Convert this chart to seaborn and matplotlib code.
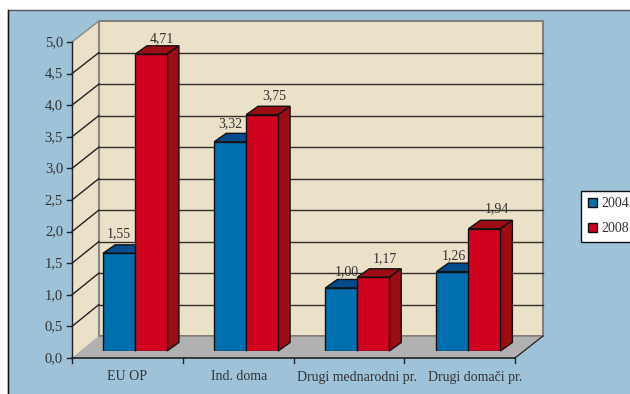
import matplotlib
matplotlib.use("Agg")
import matplotlib.pyplot as plt
from matplotlib.patches import Polygon, Rectangle, Patch
from matplotlib.transforms import Affine2D, IdentityTransform
import pandas as pd
import seaborn as sns

categories = ["EU OP", "Ind. doma", "Drugi mednarodni pr.", "Drugi domači pr."]
years = ["2004", "2008"]
values_2004 = [1.55, 3.32, 1.00, 1.26]
values_2008 = [4.71, 3.75, 1.17, 1.94]
y_ticks = [0.0, 0.5, 1.0, 1.5, 2.0, 2.5, 3.0, 3.5, 4.0, 4.5, 5.0]

PANEL = "#9EC2D8"
WALL = "#EBE0C8"
FLOOR = "#B1B1B1"
BLUE, BLUE_DARK = "#006FAE", "#004C8C"
RED, RED_DARK = "#D0021E", "#9C0C14"
INK = "#333333"
SERIF = "Liberation Serif"

W, H = 630, 394
fig = plt.figure(figsize=(W / 100, H / 100), dpi=100, facecolor="white")

# Backdrop axes in pixel units: panel, walls, floor and gridlines
bg = fig.add_axes([0, 0, 1, 1], zorder=0)
bg.set_xlim(0, W)
bg.set_ylim(H, 0)
bg.axis("off")

front_left, front_right, front_base, front_scale = 72, 515, 358, 63.2
back_left, back_right, back_base, back_scale = 99, 543, 336, 63.0

bg.add_patch(Rectangle((7.5, 9.5), 640, 400, fc=PANEL, ec="#555555", lw=1))
bg.plot([7.5, 7.5], [9.5, 394], color="#111111", lw=1)
bg.add_patch(Polygon([(back_left, back_base - 5 * back_scale), (back_right, back_base - 5 * back_scale),
                      (back_right, back_base), (back_left, back_base)],
                     fc=WALL, ec="#807D78", lw=1.4))
bg.add_patch(Polygon([(front_left, front_base - 5 * front_scale), (back_left, back_base - 5 * back_scale),
                      (back_left, back_base), (front_left, front_base)],
                     fc=WALL, ec="none"))
bg.add_patch(Polygon([(front_left, front_base), (back_left, back_base),
                      (back_right, back_base), (front_right, front_base)],
                     fc=FLOOR, ec="none"))
bg.plot([back_left, back_left], [back_base, back_base - 5 * back_scale], color="#8A8780", lw=1.5)
bg.plot([back_left, back_right], [back_base, back_base], color="#8F8B80", lw=0.8)
bg.plot([front_right, back_right], [front_base, back_base], color="#222222", lw=0.9)

for tick in y_ticks:
    fy = front_base - tick * front_scale
    by = back_base - tick * back_scale
    is_top = tick == y_ticks[-1]
    if 0 < tick:
        bg.plot([front_left, back_left], [fy, by], color="#8A8780" if is_top else "#222222", lw=1)
    if 0 < tick and not is_top:
        bg.plot([back_left, back_right], [by, by], color="#33302A", lw=1)
    bg.plot([front_left - 5, front_left], [fy, fy], color="#222222", lw=1)
    bg.text(front_left - 9, fy + 0.5, f"{tick:.1f}".replace(".", ","), ha="right", va="center",
            family=SERIF, fontsize=10.5, color=INK)

bg.plot([front_left, front_left], [front_base, front_base - 5 * front_scale], color="#222222", lw=1)
bg.plot([front_left, front_right], [front_base, front_base], color="#222222", lw=1.2)
for i in range(len(categories) + 1):
    tx = front_left + i * (front_right - front_left) / len(categories)
    bg.plot([tx, tx], [front_base, front_base + 5], color="#222222", lw=1)

# Category labels sit under the front edge; the two long ones are spread apart
label_x = [127, 239, 357, 475]
label_y = [377, 377, 377, 378]
for name, lx, ly in zip(categories, label_x, label_y):
    bg.text(lx, ly, name, ha="center", va="center", family=SERIF, fontsize=10, color=INK)

# Bars on the floor plane, drawn by seaborn
plane_left, plane_right, plane_base = 79.4, 524.0, 351
plane_top = plane_base - 5 * 63.0
ax = fig.add_axes([plane_left / W, 1 - plane_base / H,
                   (plane_right - plane_left) / W, (plane_base - plane_top) / H], zorder=1)
df = pd.DataFrame({
    "category": categories * 2,
    "year": [years[0]] * len(categories) + [years[1]] * len(categories),
    "value": values_2004 + values_2008,
})
sns.barplot(data=df, x="category", y="value", hue="year", order=categories, hue_order=years,
            palette=[BLUE, RED], width=0.575, gap=0, saturation=1, legend=False,
            edgecolor="#111111", linewidth=1, ax=ax)
ax.set_xlim(-0.5, len(categories) - 0.5)
ax.set_ylim(0, 5)
ax.axis("off")

# Extruded top and side faces, offset from the bar fronts in pixels
depth_x, depth_y = 12, 8.5
depth = ax.transData + Affine2D().translate(depth_x, depth_y)

label_nudge = {"2004": [(0, 20), (0, 18), (5, 16), (1, 16)],
               "2008": [(11, 16), (12, 19), (12, 19), (13, 20)]}

containers = dict(zip(years, ax.containers))
for year, top_colour, side_colour in zip(years, [BLUE_DARK, RED_DARK], [BLUE_DARK, RED_DARK]):
    for bar, nudge in zip(containers[year], label_nudge[year]):
        bar.set_zorder(3)
        x0, x1, v = bar.get_x(), bar.get_x() + bar.get_width(), bar.get_height()
        top = [ax.transData.transform(p) for p in [(x0, v), (x1, v)]] + \
              [depth.transform(p) for p in [(x1, v), (x0, v)]]
        side = [ax.transData.transform(p) for p in [(x1, v), (x1, 0)]] + \
               [depth.transform(p) for p in [(x1, 0), (x1, v)]]
        for pts, colour in ((top, top_colour), (side, side_colour)):
            ax.add_patch(Polygon(pts, closed=True, transform=IdentityTransform(), fc=colour,
                                 ec="#111111", lw=1, zorder=2, clip_on=False))
        ax.annotate(f"{v:.2f}".replace(".", ","), xy=((x0 + x1) / 2, v),
                    xytext=(nudge[0] * 0.72, nudge[1] * 0.72), textcoords="offset points",
                    ha="center", va="center", family=SERIF, fontsize=10, color=INK, zorder=4,
                    annotation_clip=False)

handles = [Patch(fc=BLUE, ec="#111111", lw=1, label=years[0]),
           Patch(fc=RED, ec="#111111", lw=1, label=years[1])]
leg = fig.legend(handles=handles, loc="upper left", bbox_to_anchor=(581 / W, 1 - 190.5 / H),
                 borderaxespad=0, borderpad=0.5, handlelength=0.62, handleheight=0.62,
                 handletextpad=0.38, labelspacing=0.85, fancybox=False, framealpha=1,
                 edgecolor="#111111", facecolor="white",
                 prop={"family": SERIF, "size": 10}, labelcolor=INK)
leg.get_frame().set_linewidth(1)
leg.set_zorder(5)

fig.savefig("out.png", dpi=100, facecolor="white")
